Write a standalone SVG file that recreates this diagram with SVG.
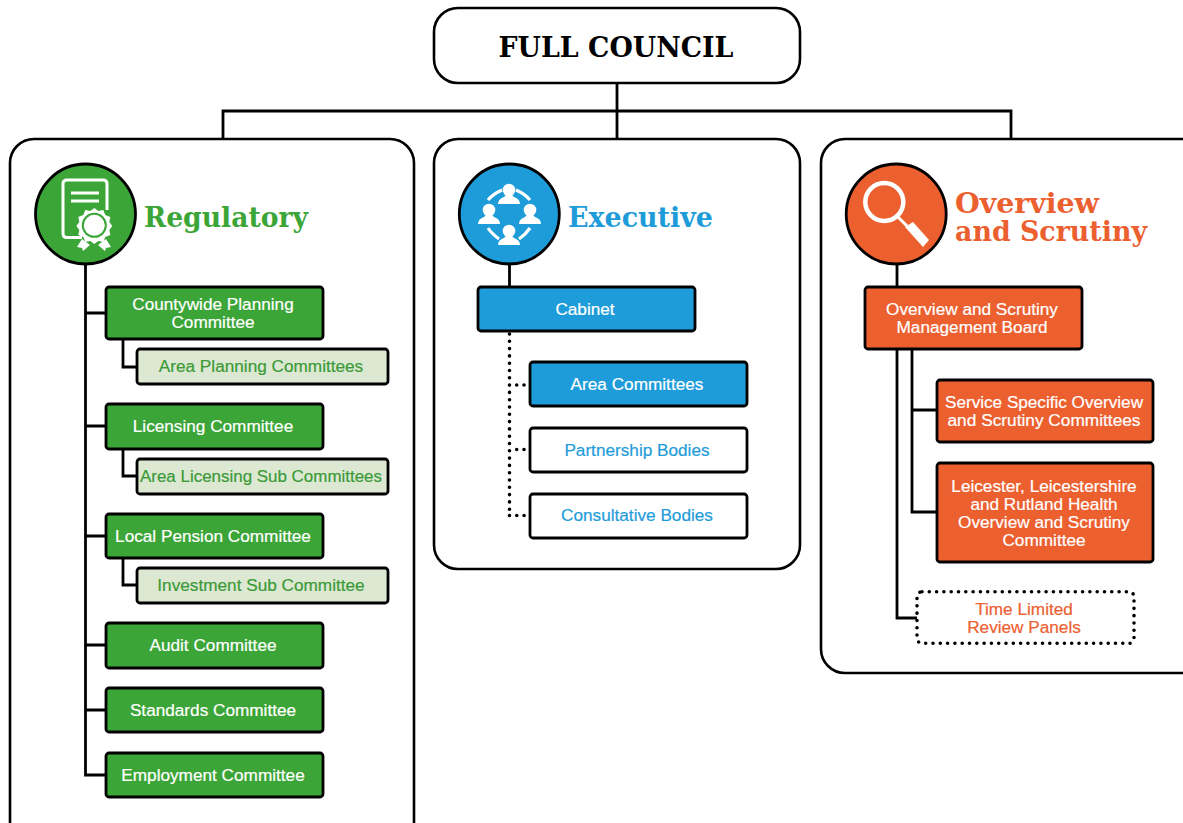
<svg xmlns="http://www.w3.org/2000/svg" width="1183" height="823" viewBox="0 0 1183 823">
<style>
.panel{fill:#fff;stroke:#000;stroke-width:2.6}
.box{stroke:#000;stroke-width:2.8}
.g{fill:#3ba537}.b{fill:#1e9cd9}.o{fill:#ec6030}.l{fill:#dce8d2}.w{fill:#fff}
.line{fill:none;stroke:#000;stroke-width:2.8}
.dot{fill:none;stroke:#000;stroke-width:3.6;stroke-linecap:round;stroke-dasharray:0 7.3}
text{font-family:"Liberation Sans",Arial,sans-serif;font-size:17.2px;text-anchor:middle;fill:#fff;stroke:#fff;stroke-width:.2}
.tg{fill:#3b9a37;stroke:#3b9a37}.tb{fill:#1e9cd9;stroke:#1e9cd9}.to{fill:#ec6030;stroke:#ec6030}
.head{font-family:"DejaVu Serif",serif;font-weight:700;text-anchor:start;font-size:28px;stroke:none}
.ic{fill:none;stroke:#fff;stroke-width:3}
.if{fill:#fff}
</style>
<g id="panels">
<rect class="panel" x="10" y="139" width="404" height="720" rx="24"/>
<rect class="panel" x="434" y="139" width="366" height="430" rx="24"/>
<rect class="panel" x="821" y="139" width="400" height="534" rx="24"/>
</g>
<g id="connectors">
<path class="line" d="M617 83V139M223 139V111H1011V139"/>
<path class="line" d="M85.500 264V775H106M85.500 313H106M85.500 426H106M85.500 536H106M85.500 645H106M85.500 710H106"/>
<path class="line" d="M123 339V367H137M123 449V476H137M123 558V585H137"/>
<path class="line" d="M509.500 264V287"/>
<path class="dot" d="M509.500 334V510M509.500 515.500H525M516.700 385H525M516.700 449.500H525"/>
<path class="line" d="M897 264V287M897 349V618H917M912 349V512H937M912 410H937"/>
</g>
<g id="full-council"><rect x="434" y="8" width="366" height="75" rx="24" class="panel"/><text x="616" y="57" style="font-family:'DejaVu Serif',serif;font-weight:700;font-size:28px;fill:#000;stroke:none" textLength="235" lengthAdjust="spacingAndGlyphs">FULL COUNCIL</text></g>
<g id="regulatory"><circle cx="85.500" cy="214" r="50" class="g box"/>
<path class="ic" d="M82 237.500H67Q63 237.500 63 233.500V184Q63 180 67 180H103Q107 180 107 184V210"/>
<path class="ic" d="M71 193H99M71 201H99"/>
<path class="if" d="M94.300 208l4 3 5-1 2 5 5 2-1 5 3 4-3 4 1 5-5 2-2 5-5-1-4 3-4-3-5 1-2-5-5-2 1-5-3-4 3-4-1-5 5-2 2-5 5 1z"/>
<circle cx="94.300" cy="225.300" r="12.500" class="g"/><circle cx="94.300" cy="225.300" r="10.500" class="if"/>
<path class="if" d="M82 239l8 6-7 6-1-3-5-1zM106 239l-8 6 7 6 1-3 5-1z"/>
<text class="head" x="144" y="227" textLength="164" lengthAdjust="spacingAndGlyphs" style="fill:#3ba537">Regulatory</text></g>
<g id="executive"><circle cx="509.300" cy="214" r="50" class="b box"/>
<g class="if"><g id="person"><circle cx="509" cy="190" r="6.300"/><path d="M498 204Q498 199 504 197L506 195H512L514 197Q520 199 520 204Z"/></g>
<circle cx="489" cy="210" r="6.300"/><path d="M478 224Q478 219 484 217L486 215H492L494 217Q500 219 500 224Z"/>
<circle cx="530" cy="210" r="6.300"/><path d="M519 224Q519 219 525 217L527 215H533L535 217Q541 219 541 224Z"/>
<circle cx="509" cy="231" r="6.300"/><path d="M498 245Q498 240 504 238L506 236H512L514 238Q520 240 520 245Z"/></g>
<path class="ic" d="M488 200Q493 194 502 190M516 190Q525 194 530 200M488 228Q491 233 499 239M530 228Q526 234 519 239" style="stroke-width:3.200"/>
<text class="head" x="568" y="227" textLength="145" lengthAdjust="spacingAndGlyphs" style="fill:#1e9cd9">Executive</text></g>
<g id="overview"><circle cx="896.200" cy="214" r="50" class="o box"/>
<circle cx="884.300" cy="202" r="19" fill="none" stroke="#fff" stroke-width="4.500"/>
<path d="M897 216L907 226" stroke="#fff" stroke-width="3"/><path d="M905 227L913 222L929 240L923 247Z" fill="#fff"/>
<text class="head" style="fill:#ec6030"><tspan x="955" y="213" textLength="144" lengthAdjust="spacingAndGlyphs">Overview</tspan><tspan x="955" y="241" textLength="192" lengthAdjust="spacingAndGlyphs">and Scrutiny</tspan></text></g>
<g id="countywide"><rect x="106" y="287" width="217" height="52" rx="3" class="g box"/><text x="213" y="310">Countywide Planning</text><text x="213" y="328">Committee</text></g>
<g id="area-planning"><rect x="137" y="349" width="251" height="35" rx="3" class="l box"/><text x="261" y="372" class="tg">Area Planning Committees</text></g>
<g id="licensing"><rect x="106" y="404" width="217" height="45" rx="3" class="g box"/><text x="213" y="432">Licensing Committee</text></g>
<g id="area-licensing"><rect x="137" y="459" width="251" height="35" rx="3" class="l box"/><text x="261" y="482" class="tg" textLength="242" lengthAdjust="spacingAndGlyphs">Area Licensing Sub Committees</text></g>
<g id="pension"><rect x="106" y="514" width="217" height="44" rx="3" class="g box"/><text x="213" y="542">Local Pension Committee</text></g>
<g id="investment"><rect x="137" y="568" width="251" height="35" rx="3" class="l box"/><text x="261" y="591" class="tg">Investment Sub Committee</text></g>
<g id="audit"><rect x="106" y="623" width="217" height="45" rx="3" class="g box"/><text x="213" y="651">Audit Committee</text></g>
<g id="standards"><rect x="106" y="688" width="217" height="44" rx="3" class="g box"/><text x="213" y="716">Standards Committee</text></g>
<g id="employment"><rect x="106" y="753" width="217" height="44" rx="3" class="g box"/><text x="213" y="781">Employment Committee</text></g>
<g id="cabinet"><rect x="478" y="287" width="217" height="44" rx="3" class="b box"/><text x="585" y="315">Cabinet</text></g>
<g id="area-committees"><rect x="530" y="362" width="217" height="44" rx="3" class="b box"/><text x="637" y="390">Area Committees</text></g>
<g id="partnership"><rect x="530" y="428" width="217" height="44" rx="3" class="w box"/><text x="637" y="456" class="tb">Partnership Bodies</text></g>
<g id="consultative"><rect x="530" y="494" width="217" height="44" rx="3" class="w box"/><text x="637" y="521" class="tb">Consultative Bodies</text></g>
<g id="oversight-board"><rect x="865" y="287" width="217" height="62" rx="3" class="o box"/><text x="972" y="315">Overview and Scrutiny</text><text x="972" y="333">Management Board</text></g>
<g id="service"><rect x="937" y="380" width="216" height="62" rx="3" class="o box"/><text x="1044" y="408" textLength="198" lengthAdjust="spacingAndGlyphs">Service Specific Overview</text><text x="1044" y="426" textLength="193" lengthAdjust="spacingAndGlyphs">and Scrutiny Committees</text></g>
<g id="health"><rect x="937" y="463" width="216" height="99" rx="3" class="o box"/><text x="1044" y="492">Leicester, Leicestershire</text><text x="1044" y="510">and Rutland Health</text><text x="1044" y="528">Overview and Scrutiny</text><text x="1044" y="546">Committee</text></g>
<g id="time-limited"><rect x="917" y="591.700" width="217" height="51.600" rx="5" class="dot"/><text x="1024" y="615" class="to">Time Limited</text><text x="1024" y="633" class="to">Review Panels</text></g>
</svg>
